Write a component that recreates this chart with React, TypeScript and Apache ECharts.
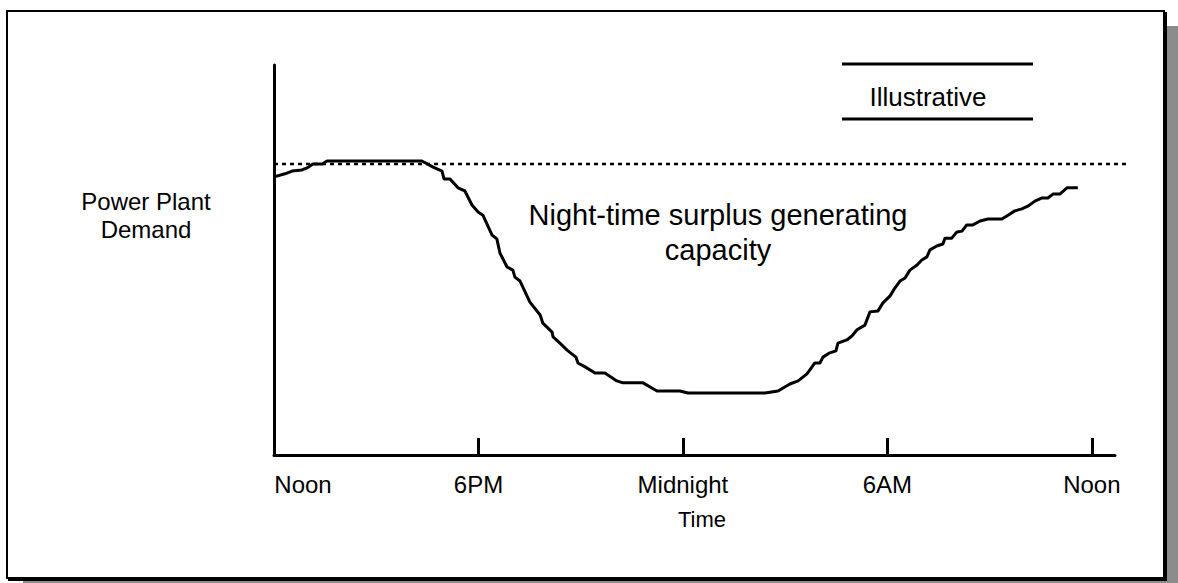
import React, { useEffect, useRef } from "react";
import * as echarts from "echarts";

// Hours after noon (0 = Noon, 24 = next Noon)
const hours = [
  0, 0.32, 0.53, 0.82, 0.97, 1.14, 1.41, 1.56, 4.34, 4.67, 4.93, 4.99, 5.16, 5.4, 5.6, 5.81, 5.99, 6.13,
  6.4, 6.54, 6.63, 6.84, 7.01, 7.07, 7.22, 7.51, 7.81, 7.89, 8.16, 8.19, 8.39, 8.6, 8.86, 8.92, 9.13,
  9.42, 9.71, 10.06, 10.24, 10.83, 11.24, 11.91, 12.15, 14.41, 14.79, 15.14, 15.38, 15.64, 15.79, 15.87,
  16.02, 16.11, 16.31, 16.49, 16.55, 16.81, 16.96, 17.11, 17.34, 17.49, 17.72, 17.87, 18.08, 18.22,
  18.37, 18.52, 18.66, 18.87, 19.01, 19.16, 19.25, 19.45, 19.63, 19.69, 19.89, 20.04, 20.19, 20.33,
  20.51, 20.72, 20.95, 21.36, 21.54, 21.74, 21.95, 22.12, 22.33, 22.54, 22.71, 22.86, 23.06, 23.27, 23.59,
];
// Power plant demand (relative units)
const demand = [
  71.3, 72.1, 72.8, 73.1, 73.6, 74.6, 74.6, 75.4, 75.4, 73.8, 72.8, 70.8, 70.8, 68.5, 67.7, 64.1, 62.3, 61.5,
  56.4, 55.4, 51.8, 48.2, 47.4, 45.6, 44.6, 39.2, 35.9, 33.8, 31.5, 30.3, 28.7, 26.9, 25.1, 23.6, 22.6,
  21.0, 21.0, 19.0, 18.5, 18.5, 16.4, 16.4, 15.9, 15.9, 16.4, 18.2, 19.0, 20.8, 22.6, 23.6,
  23.6, 25.1, 26.2, 26.7, 28.7, 29.5, 30.5, 32.1, 33.3, 36.7, 36.9, 39.0, 40.8, 42.8,
  44.6, 45.4, 47.4, 48.7, 50.0, 50.8, 52.6, 53.6, 54.1, 55.6, 55.6, 57.2, 57.4, 59.0,
  59.0, 60.0, 60.5, 60.5, 61.5, 62.6, 63.1, 63.8, 65.1, 65.9, 65.9, 66.9, 66.9, 68.5, 68.5,
];
// Generating capacity (dotted line), runs past the axis end
const capacityHours = [0, 25.12];
const capacityLevel = [74.6, 74.6];

const tickHours = [0, 6, 12, 18, 24];
const tickLabels = ["Noon", "6PM", "Midnight", "6AM", "Noon"];
const yAxisTitle = "Power Plant\nDemand";
const xAxisTitle = "Time";
const annotation = "Night-time surplus generating\ncapacity";
const legendNote = "Illustrative";

const FONT = "'Liberation Sans', Arial, sans-serif";

export default function App() {
  const ref = useRef<HTMLDivElement>(null);
  useEffect(() => {
    if (!ref.current) return;
    const chart = echarts.init(ref.current, null, { renderer: "svg" });
    const curve = hours.map((h, i) => [h, demand[i]]);
    const baseGraphic: any[] = [
      { type: "rect", z: -20, shape: { x: 23, y: 26, width: 1155, height: 557 }, style: { fill: "#8c8c8c" } },
      {
        type: "rect",
        z: -10,
        shape: { x: 7, y: 11, width: 1157, height: 567 },
        style: { fill: "#ffffff", stroke: "#000", lineWidth: 2 },
      },
      { type: "line", z: -5, shape: { x1: 1166, y1: 12, x2: 1166, y2: 581 }, style: { stroke: "#000", lineWidth: 2 } },
      { type: "line", z: -5, shape: { x1: 8, y1: 580, x2: 1167, y2: 580 }, style: { stroke: "#000", lineWidth: 2 } },
      { type: "line", z: 5, shape: { x1: 842, y1: 64, x2: 1033, y2: 64 }, style: { stroke: "#000", lineWidth: 3 } },
      { type: "line", z: 5, shape: { x1: 842, y1: 119, x2: 1033, y2: 119 }, style: { stroke: "#000", lineWidth: 3 } },
      {
        type: "text",
        z: 6,
        x: 928,
        y: 97,
        style: { text: legendNote, fill: "#000", font: "26px " + FONT, textAlign: "center", textVerticalAlign: "middle" },
      },
      {
        type: "text",
        z: 6,
        x: 146,
        y: 215,
        style: {
          text: yAxisTitle,
          fill: "#000",
          font: "24px " + FONT,
          lineHeight: 28,
          textAlign: "center",
          textVerticalAlign: "middle",
        },
      },
      {
        type: "text",
        z: 6,
        x: 718,
        y: 232,
        style: {
          text: annotation,
          fill: "#000",
          font: "29px " + FONT,
          lineHeight: 35,
          textAlign: "center",
          textVerticalAlign: "middle",
        },
      },
      {
        type: "text",
        z: 6,
        x: 702,
        y: 519,
        style: { text: xAxisTitle, fill: "#000", font: "22px " + FONT, textAlign: "center", textVerticalAlign: "middle" },
      },
    ];
    chart.setOption({
      animation: false,
      backgroundColor: "#ffffff",
      grid: { left: 274, right: 63, top: 65, bottom: 128, containLabel: false },
      xAxis: {
        type: "value",
        min: 0,
        max: 24.68,
        splitLine: { show: false },
        axisLine: { show: true, lineStyle: { color: "#000", width: 3 } },
        axisTick: {
          show: true,
          inside: true,
          length: 17,
          customValues: tickHours.slice(1),
          lineStyle: { color: "#000", width: 3 },
        },
        axisLabel: {
          show: true,
          customValues: tickHours,
          margin: 15,
          color: "#000",
          fontFamily: FONT,
          fontSize: 24,
          lineHeight: 28,
          formatter: (v: number) => {
            const idx = tickHours.indexOf(v);
            if (idx < 0) return "";
            return idx === 0 ? "{first|" + tickLabels[idx] + "}" : tickLabels[idx];
          },
          rich: {
            first: {
              fontFamily: FONT,
              fontSize: 24,
              lineHeight: 28,
              color: "#000",
              padding: [0, 0, 0, 58],
            },
          },
        },
      },
      yAxis: {
        type: "value",
        min: 0,
        max: 100,
        splitLine: { show: false },
        axisLine: { show: true, lineStyle: { color: "#000", width: 3 } },
        axisTick: { show: false },
        axisLabel: { show: false },
      },
      series: [
        {
          type: "line",
          data: curve,
          showSymbol: false,
          clip: false,
          lineStyle: { color: "#000", width: 3, join: "round" },
          z: 4,
        },
      ],
      graphic: baseGraphic,
    });
    // Dotted capacity line: positioned through the chart's own scales (extends past the axis end)
    const p0 = chart.convertToPixel({ gridIndex: 0 }, [capacityHours[0], capacityLevel[0]]) as number[];
    const p1 = chart.convertToPixel({ gridIndex: 0 }, [capacityHours[1], capacityLevel[1]]) as number[];
    chart.setOption({
      graphic: [
        ...baseGraphic,
        {
          type: "line",
          z: 3,
          shape: { x1: p0[0], y1: p0[1], x2: p1[0], y2: p1[1] },
          style: { stroke: "#000", lineWidth: 2.5, lineDash: [4, 4] },
        },
      ],
    });
    return () => chart.dispose();
  }, []);
  return (
    <div
      ref={ref}
      style={{ position: "fixed", left: 0, top: 0, width: 1178, height: 583, background: "#fff" }}
    />
  );
}
